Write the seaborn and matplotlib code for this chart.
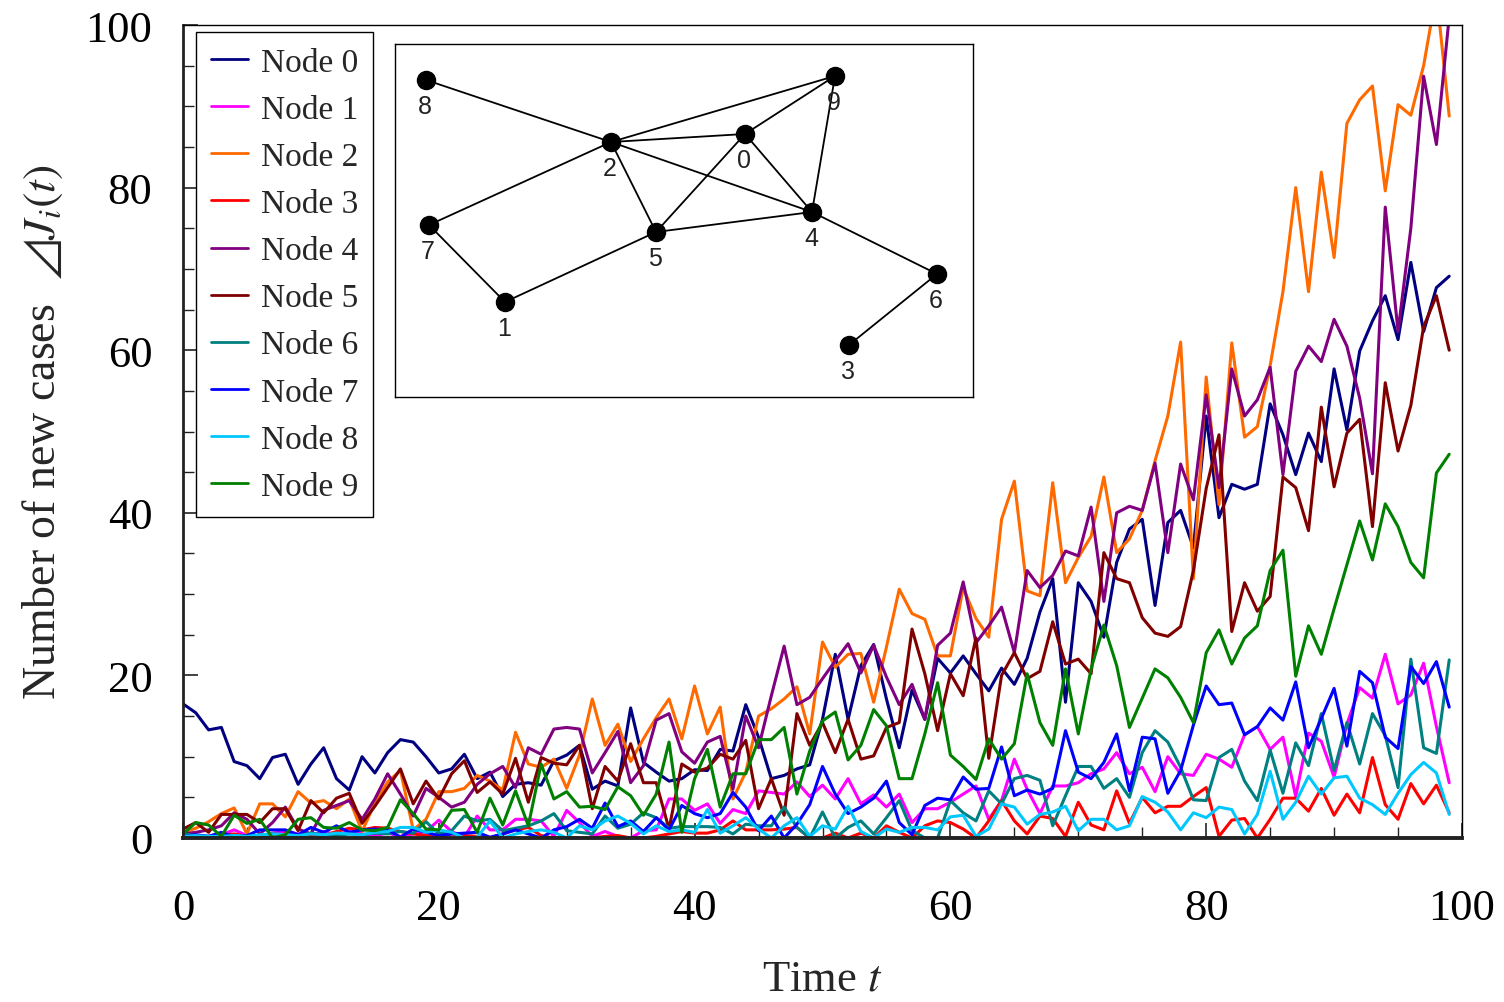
import numpy as np
import pandas as pd
import matplotlib
matplotlib.use("Agg")
import matplotlib.pyplot as plt
from matplotlib.ticker import MultipleLocator
import seaborn as sns

# time steps and node names
t = list(range(100))
node_names = ["Node %d" % i for i in range(10)]
node_colors = ["#000080", "#ff00ff", "#ff6a00", "#ff0000", "#800080",
               "#800000", "#008080", "#0000ff", "#00c8ff", "#008000"]

# new cases per node
node0 = [16.5, 15.4, 13.3, 13.6, 9.4, 8.9, 7.3, 9.9, 10.3, 6.6, 9.1, 11.1, 7.3, 5.9, 10.0, 8.0, 10.5, 12.1, 11.8, 10.0,
         8.0, 8.5, 10.3, 7.3, 8.1, 5.1, 6.6, 6.8, 6.5, 9.5, 10.2, 11.4, 6.0, 7.0, 6.4, 16.0, 9.3, 8.1, 7.0, 7.3,
         8.4, 8.3, 10.9, 10.7, 16.4, 12.4, 7.3, 7.7, 8.5, 9.0, 14.6, 22.6, 14.6, 21.2, 23.8, 17.1, 11.1, 18.2, 14.6, 22.1,
         20.3, 22.4, 20.2, 18.1, 20.9, 18.9, 22.1, 27.8, 31.9, 16.7, 31.4, 29.1, 24.7, 33.9, 38.0, 39.2, 28.6, 38.8, 40.3, 35.7,
         51.9, 39.4, 43.5, 42.9, 43.5, 53.4, 49.6, 44.7, 49.8, 46.3, 57.7, 50.2, 59.9, 63.6, 66.7, 61.3, 70.8, 62.3, 67.7, 69.1]
node1 = [0.3, 0.2, 0.2, 0.4, 1.0, 0.3, 0.2, 0.6, 0.8, 0.5, 0.3, 0.8, 0.4, 0.8, 0.5, 0.3, 0.6, 0.2, 0.5, 0.8,
         2.2, 0.8, 0.1, 2.7, 1.0, 1.0, 2.3, 2.3, 2.1, 0.2, 3.4, 1.9, 0.2, 0.8, 0.2, 0.0, 0.9, 1.0, 4.8, 4.8,
         3.4, 4.2, 1.8, 3.5, 3.0, 5.8, 5.6, 5.4, 6.9, 5.1, 6.5, 4.8, 7.3, 4.2, 5.3, 3.8, 5.4, 1.9, 3.6, 3.6,
         4.4, 5.4, 6.4, 2.3, 4.6, 9.7, 6.0, 3.0, 6.4, 6.4, 6.8, 7.9, 8.5, 10.5, 7.9, 8.7, 5.7, 10.0, 7.9, 7.7,
         10.3, 9.7, 8.7, 12.7, 13.7, 10.9, 12.4, 5.1, 12.9, 11.9, 7.5, 14.0, 18.5, 17.2, 22.6, 16.5, 17.6, 21.5, 13.7, 6.8]
node2 = [0.7, 1.2, 2.0, 3.0, 3.7, 0.5, 4.2, 4.2, 2.6, 5.7, 4.3, 4.6, 3.6, 4.8, 0.8, 4.3, 6.9, 8.3, 1.0, 2.3,
         5.7, 5.7, 6.1, 7.7, 7.0, 5.9, 13.0, 9.1, 8.7, 9.7, 6.1, 10.2, 17.1, 11.4, 14.0, 9.4, 12.2, 14.8, 17.1, 12.2,
         18.7, 12.8, 16.1, 4.8, 8.1, 15.0, 15.9, 17.1, 18.6, 12.8, 24.1, 21.0, 22.6, 22.7, 16.7, 23.5, 30.6, 27.6, 26.9, 22.4,
         22.4, 30.8, 27.0, 24.7, 39.2, 43.9, 30.4, 29.8, 43.7, 31.4, 34.5, 37.1, 44.4, 35.1, 36.8, 40.3, 46.4, 51.9, 61.0, 31.9,
         56.7, 41.0, 60.9, 49.3, 50.6, 58.1, 67.2, 80.0, 67.2, 81.9, 71.4, 87.9, 90.8, 92.5, 79.6, 90.2, 88.9, 95.0, 104.0, 88.8]
node3 = [0.1, 0.2, 0.0, 0.3, 0.5, 0.2, 0.0, 0.3, 0.5, 0.2, 0.4, 0.3, 0.8, 1.2, 1.0, 1.3, 1.2, 0.8, 0.5, 0.3,
         0.2, 0.5, 0.3, 0.2, 0.0, 0.5, 1.0, 1.3, 0.3, 0.0, 0.0, 0.0, 0.0, 0.2, 0.3, 0.0, 0.0, 0.2, 0.5, 0.8,
         0.6, 0.6, 1.0, 2.1, 1.0, 1.0, 1.0, 1.1, 1.3, 0.0, 0.0, 0.6, 0.0, 0.6, 0.0, 1.5, 0.7, 0.0, 1.5, 2.1,
         1.9, 1.1, 0.0, 2.1, 4.6, 2.1, 0.5, 2.7, 2.4, 0.2, 4.4, 1.6, 1.0, 5.8, 1.8, 5.0, 3.1, 3.9, 3.9, 5.1,
         6.2, 0.2, 2.2, 2.4, 0.0, 2.3, 4.9, 4.9, 3.3, 6.1, 2.8, 5.4, 3.1, 9.9, 4.1, 2.3, 6.7, 4.2, 6.5, 3.1]
node4 = [0.5, 0.7, 1.0, 1.5, 3.1, 2.3, 0.5, 1.9, 3.8, 1.1, 0.5, 3.4, 4.0, 4.6, 2.3, 4.8, 7.9, 5.4, 2.7, 6.1,
         5.0, 3.8, 4.4, 6.6, 7.9, 8.8, 6.2, 11.1, 10.3, 13.4, 13.6, 13.4, 8.0, 10.5, 13.1, 6.8, 8.9, 14.5, 15.3, 10.6,
         9.2, 11.8, 12.5, 6.0, 15.0, 11.1, 17.5, 23.6, 16.4, 17.3, 19.6, 21.8, 23.9, 20.3, 23.7, 19.8, 16.4, 18.9, 14.6, 23.7,
         25.2, 31.5, 24.0, 26.1, 28.4, 22.8, 32.9, 30.8, 32.3, 35.3, 34.7, 40.7, 29.1, 40.0, 40.8, 40.3, 46.1, 35.1, 46.0, 41.6,
         54.5, 43.1, 57.7, 51.9, 53.9, 57.9, 44.7, 57.4, 60.5, 58.6, 63.8, 60.5, 54.1, 44.8, 77.6, 62.3, 75.0, 93.7, 85.3, 101.0]
node5 = [1.1, 1.9, 0.7, 2.9, 2.9, 2.9, 1.9, 3.6, 3.6, 0.9, 4.6, 3.1, 4.9, 5.5, 1.8, 3.9, 6.2, 8.5, 4.2, 7.0,
         4.8, 7.9, 9.5, 5.6, 6.9, 5.4, 9.8, 4.4, 9.9, 9.2, 9.0, 11.4, 3.6, 8.8, 7.0, 11.6, 6.8, 6.8, 1.1, 9.1,
         8.1, 8.6, 10.3, 9.7, 12.0, 3.6, 7.3, 2.8, 15.3, 11.4, 14.2, 10.5, 14.6, 9.7, 10.1, 13.6, 14.2, 25.7, 20.2, 13.2,
         20.2, 17.5, 24.6, 9.8, 20.0, 22.8, 19.6, 20.5, 26.6, 21.4, 22.0, 20.2, 35.1, 31.9, 31.4, 27.1, 25.2, 24.8, 26.0, 32.9,
         43.0, 49.6, 25.4, 31.4, 27.9, 29.7, 44.4, 43.1, 37.8, 53.0, 43.2, 49.8, 51.5, 38.3, 56.0, 47.6, 53.2, 62.9, 66.7, 60.0]
node6 = [0.5, 0.3, 0.2, 0.4, 0.3, 0.2, 0.3, 0.5, 0.4, 0.3, 0.6, 0.4, 0.3, 0.5, 0.4, 0.6, 0.5, 0.8, 0.6, 2.0,
         0.5, 0.9, 2.7, 2.1, 2.3, 0.9, 1.2, 1.5, 2.1, 3.0, 0.9, 0.7, 0.5, 2.7, 1.2, 1.7, 3.1, 2.5, 1.2, 1.4,
         1.4, 1.4, 1.3, 0.5, 1.7, 1.5, 1.5, 3.8, 1.3, 0.0, 3.2, 0.0, 1.3, 2.1, 0.5, 2.5, 4.6, 0.9, 0.0, 0.0,
         4.6, 3.1, 2.1, 5.8, 4.2, 7.3, 7.7, 7.1, 1.5, 5.2, 8.8, 8.8, 6.1, 7.3, 5.0, 10.5, 13.2, 11.8, 8.7, 4.7,
         4.6, 9.9, 10.9, 7.0, 4.6, 10.8, 5.5, 11.7, 8.9, 15.3, 8.3, 14.2, 9.1, 15.3, 12.6, 6.2, 22.0, 11.1, 10.4, 21.9]
node7 = [0.2, 0.4, 0.2, 0.7, 0.1, 0.3, 1.0, 1.0, 1.0, 0.4, 1.3, 0.7, 1.5, 0.7, 1.0, 1.1, 1.0, 0.1, 1.1, 0.7,
         0.3, 0.5, 0.6, 0.7, 0.1, 0.5, 1.0, 0.5, 0.0, 1.0, 1.4, 2.3, 1.2, 4.3, 1.4, 2.1, 0.8, 2.5, 1.0, 4.0,
         3.0, 2.5, 3.0, 5.6, 3.8, 0.9, 2.7, 0.0, 1.7, 4.1, 8.8, 5.4, 3.0, 3.8, 4.9, 7.0, 1.9, 0.4, 4.0, 4.9,
         4.7, 7.5, 6.0, 6.1, 11.2, 5.2, 5.9, 5.4, 6.1, 13.2, 8.1, 7.3, 9.3, 12.8, 5.8, 12.4, 12.2, 5.5, 8.3, 13.9,
         18.7, 16.4, 16.6, 12.7, 13.7, 16.0, 14.5, 19.2, 11.1, 14.7, 18.4, 11.3, 20.5, 19.1, 12.4, 11.0, 21.1, 19.0, 21.7, 16.1]
node8 = [0.2, 0.3, 0.2, 0.2, 0.3, 0.2, 0.4, 0.5, 0.4, 0.3, 0.5, 0.4, 0.6, 0.5, 0.4, 0.7, 0.8, 1.3, 1.3, 0.7,
         1.0, 0.7, 0.0, 0.1, 2.1, 0.0, 0.5, 0.8, 1.0, 0.7, 0.0, 1.5, 1.0, 2.1, 2.7, 1.8, 0.5, 1.5, 0.8, 1.0,
         0.7, 3.5, 0.6, 1.5, 2.5, 1.1, 0.0, 1.5, 2.5, 0.2, 1.5, 1.1, 3.9, 0.8, 0.0, 1.1, 0.7, 1.3, 1.3, 1.0,
         2.6, 2.8, 0.2, 1.1, 4.2, 3.8, 1.7, 2.9, 3.2, 3.9, 0.9, 2.3, 2.3, 1.0, 1.5, 5.1, 4.4, 3.2, 1.0, 3.1,
         2.5, 3.8, 3.5, 0.5, 2.9, 8.2, 2.3, 4.4, 7.6, 5.4, 7.4, 7.6, 4.9, 4.1, 2.9, 5.5, 7.8, 9.3, 8.0, 2.9]
node9 = [0.5, 1.9, 1.6, 0.2, 2.8, 1.8, 2.3, 0.0, 0.4, 2.3, 2.5, 1.3, 1.2, 1.9, 1.0, 0.9, 1.3, 4.7, 3.0, 1.1,
         1.0, 3.4, 3.5, 0.7, 4.9, 1.6, 5.8, 1.5, 9.1, 4.8, 5.7, 3.8, 3.9, 3.5, 6.3, 5.2, 2.8, 5.4, 11.8, 0.7,
         7.3, 10.9, 3.8, 7.9, 7.9, 12.1, 12.1, 13.6, 5.4, 10.7, 14.4, 15.5, 9.6, 11.4, 15.8, 13.8, 7.3, 7.3, 12.8, 19.1,
         10.2, 8.8, 7.2, 12.2, 9.7, 11.6, 20.2, 14.2, 11.4, 20.8, 12.8, 20.8, 26.2, 21.2, 13.6, 17.2, 20.8, 19.7, 17.3, 14.2,
         22.8, 25.6, 21.4, 24.6, 26.1, 32.9, 35.4, 19.9, 26.1, 22.6, 28.2, 33.6, 39.0, 34.2, 41.1, 38.3, 33.9, 32.0, 44.9, 47.2]

# network shown in the inset: node layout (inset pixel frame) and links
node_xy = {0: (745, 135), 1: (505, 303), 2: (611, 143), 3: (849, 346), 4: (812, 213),
           5: (656, 233), 6: (937, 275), 7: (429, 226), 8: (426, 81), 9: (835, 77)}
links = [(8, 2), (2, 9), (2, 0), (0, 9), (2, 4), (2, 5), (2, 7), (0, 5),
         (0, 4), (9, 4), (5, 4), (7, 1), (1, 5), (4, 6), (6, 3)]

series = [node0, node1, node2, node3, node4, node5, node6, node7, node8, node9]
df = pd.DataFrame({
    "t": t * 10,
    "cases": np.concatenate(series),
    "node": np.repeat(node_names, len(t)),
})

sns.set_style("white")
plt.rcParams["font.family"] = ["Liberation Serif", "DejaVu Serif", "DejaVu Sans"]
plt.rcParams["mathtext.fontset"] = "stix"

W, H = 1504, 1003
fig = plt.figure(figsize=(W / 100, H / 100), dpi=100)
ax = fig.add_axes([183 / W, 1 - 839 / H, 1279 / W, 813 / H])

sns.lineplot(data=df, x="t", y="cases", hue="node", hue_order=node_names,
             palette=dict(zip(node_names, node_colors)), linewidth=2.2,
             legend=False, ax=ax)

ax.set_xlim(0, 100)
ax.set_ylim(0, 100)
ax.xaxis.set_major_locator(MultipleLocator(20))
ax.xaxis.set_minor_locator(MultipleLocator(5))
ax.yaxis.set_major_locator(MultipleLocator(20))
ax.yaxis.set_minor_locator(MultipleLocator(5))
ax.tick_params(axis="both", which="both", direction="in", colors="#222222",
               left=True, bottom=True, top=False, right=False, labelcolor="black")
ax.tick_params(axis="both", which="major", length=11, width=1.2, labelsize=32)
ax.tick_params(axis="both", which="minor", length=8, width=1.0)
ax.tick_params(axis="y", which="major", pad=22)
ax.tick_params(axis="x", which="major", pad=36)

for side, lw in [("left", 2.0), ("bottom", 2.8), ("top", 1.0), ("right", 1.0)]:
    ax.spines[side].set_linewidth(lw)
    ax.spines[side].set_color("#222222" if side in ("left", "bottom") else "black")

ax.set_xlabel("Time $t$", fontsize=32, labelpad=22)
ax.set_ylabel("Number of new cases  $\u22bf J_i(t)$", fontsize=33, labelpad=15)

leg = ax.legend(ax.lines[:10], node_names, loc="upper left",
                bbox_to_anchor=(13 / 1279, 1 - 7 / 813), borderaxespad=0,
                fontsize=24, frameon=True, fancybox=False, framealpha=1,
                edgecolor="black", handlelength=1.1, handletextpad=0.4,
                labelspacing=0.5, borderpad=0.45)
leg.get_frame().set_linewidth(1.0)
for h in leg.get_lines():
    h.set_linewidth(2.0)

# inset with the network
ins = fig.add_axes([395 / W, 1 - 398 / H, 578 / W, 353 / H])
ins.set_xlim(395, 973)
ins.set_ylim(398, 45)
ins.set_xticks([])
ins.set_yticks([])
for s in ins.spines.values():
    s.set_linewidth(1.0)
    s.set_color("black")
for a, b in links:
    ins.plot([node_xy[a][0], node_xy[b][0]], [node_xy[a][1], node_xy[b][1]],
             color="black", lw=1.3, zorder=1)
for k, (x, y) in node_xy.items():
    ins.plot(x, y, "o", color="black", ms=13, zorder=2)
    ins.text(x - 1, y + 26, str(k), ha="center", va="center", fontsize=18,
             family=["Liberation Sans", "DejaVu Sans"], color="#222222")

fig.savefig("out.png", dpi=100)
